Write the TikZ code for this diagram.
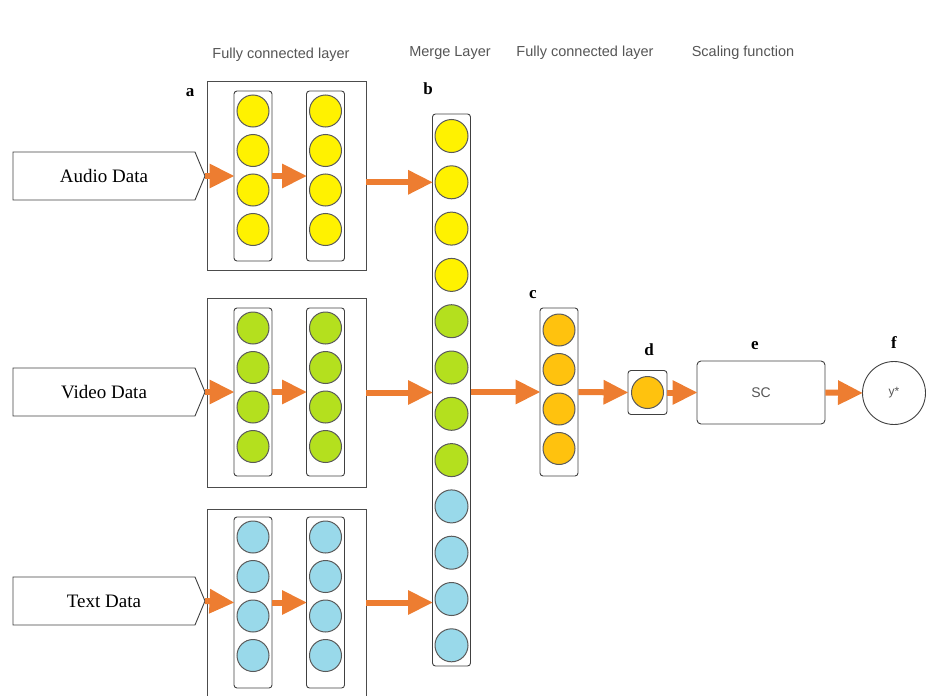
\documentclass[tikz,border=0pt]{standalone}
\usepackage{fontspec}
\setmainfont{Liberation Serif}
\setsansfont{Liberation Sans}
\usetikzlibrary{arrows.meta}
\definecolor{flowor}{HTML}{ED7D31}
\definecolor{nyellow}{HTML}{FFF200}
\definecolor{ngreen}{HTML}{B4E01E}
\definecolor{nblue}{HTML}{99D9EA}
\definecolor{namber}{HTML}{FFC20E}
\definecolor{ringgray}{HTML}{5A5A5A}
\definecolor{capgray}{HTML}{555555}
\tikzset{
  neuron/.style={circle, draw=ringgray, line width=1pt, minimum size=32pt, inner sep=0pt},
  column/.style={draw=black!75, rounded corners=3pt, line width=0.9pt, minimum width=38pt, inner sep=0pt},
  groupbox/.style={draw=black!70, line width=0.9pt, inner sep=0pt},
  flow/.style={draw=flowor, line width=6pt, -{Triangle[length=25pt,width=23pt]}, shorten >=-1pt},
  caption/.style={font=\sffamily\fontsize{14.5}{16}\selectfont, text=capgray},
  tag/.style={font=\bfseries\fontsize{17}{19}\selectfont},
  inlabel/.style={font=\fontsize{19}{21}\selectfont}
}
\begin{document}
\begin{tikzpicture}[x=1pt,y=-1pt]
\useasboundingbox (0,0) rectangle (927,696);

% column headings
\node[caption] (h1) at (281,55) {Fully connected layer};
\node[caption] (h2) at (450,53) {Merge Layer};
\node[caption] (h3) at (585,53) {Fully connected layer};
\node[caption] (h4) at (743,53) {Scaling function};

% letter tags
\node[tag] (ta) at (190,93) {a};
\node[tag] (tb) at (428,89) {b};
\node[tag] (tc) at (533,295) {c};
\node[tag] (td) at (649,350) {d};
\node[tag] (te) at (755,346) {e};
\node[tag] (tf) at (894,343) {f};

% input tags (pentagon shapes)
\foreach \nm/\txt/\yc in {ain/Audio Data/176, vin/Video Data/392, tin/Text Data/601}{
  \draw[black!75, line width=0.9pt] (13,\yc-24) -- (195,\yc-24) -- (205,\yc) -- (195,\yc+24) -- (13,\yc+24) -- cycle;
  \coordinate (\nm) at (205,\yc);
  \node[inlabel] (\nm lab) at (104,\yc) {\txt};
}

% modality blocks: outer frame and two neuron columns
\foreach \g/\col/\top/\bot/\fy/\fb in {A/nyellow/81/270/91/261, V/ngreen/298/487/308/476, T/nblue/509/700/517/688}{
  \node[groupbox, minimum width=159pt, minimum height={(\bot-\top)*1pt}] (\g) at (286.5,{(\top+\bot)/2}) {};
  \node[column, minimum height={(\fb-\fy)*1pt}] (\g1) at (253,{(\fy+\fb)/2}) {};
  \node[column, minimum height={(\fb-\fy)*1pt}] (\g2) at (325.5,{(\fy+\fb)/2}) {};
  \foreach \k in {0,1,2,3}{
    \node[neuron, fill=\col] (\g1n\k) at (253,{\fy+20+39.5*\k}) {};
    \node[neuron, fill=\col] (\g2n\k) at (325.5,{\fy+20+39.5*\k}) {};
  }
}

% merge layer
\node[column, minimum height=552pt] (M) at (451.5,390) {};
\foreach \k/\col in {0/nyellow,1/nyellow,2/nyellow,3/nyellow,4/ngreen,5/ngreen,6/ngreen,7/ngreen,8/nblue,9/nblue,10/nblue,11/nblue}{
  \node[neuron, minimum size=33pt, fill=\col] (m\k) at (451.5,{136+46.3*\k}) {};
}

% second fully connected layer
\node[column, minimum height=168pt] (C) at (559,392) {};
\foreach \k in {0,1,2,3}{
  \node[neuron, fill=namber] (c\k) at (559,{330+39.5*\k}) {};
}

% single output neuron
\node[column, minimum width=39pt, minimum height=44pt] (D) at (647.5,392.5) {};
\node[neuron, fill=namber] (d0) at (647.5,392.5) {};

% scaling function
\node[draw=black!75, line width=0.9pt, rounded corners=4pt, minimum width=128pt, minimum height=63pt,
      font=\sffamily\fontsize{14}{16}\selectfont, text=capgray] (E) at (761,392.5) {SC};

% prediction
\node[circle, draw=black!75, line width=0.9pt, minimum size=63pt, inner sep=0pt,
      font=\sffamily\fontsize{12}{14}\selectfont, text=capgray] (F) at (894,393) {y*};

% data flow
\draw[flow] (ain) -- (A1.west);
\draw[flow] (A1.east) -- (A2.west);
\draw[flow] (vin) -- (V1.west);
\draw[flow] (V1.east) -- (V2.west);
\draw[flow] (tin) -- (T1.west);
\draw[flow] (T1.east) -- (T2.west);
\draw[flow] (A.east |- m1) -- (M.west |- m1);
\draw[flow] (V.east) -- (M.west |- V.east);
\draw[flow] (T.east |- T1) -- (M.west |- T1);
\draw[flow] (M.east |- C) -- (C.west);
\draw[flow] (C.east) -- (D.west);
\draw[flow] (D.east) -- (E.west);
\draw[flow] (E.east) -- (F.west);
\end{tikzpicture}
\end{document}
